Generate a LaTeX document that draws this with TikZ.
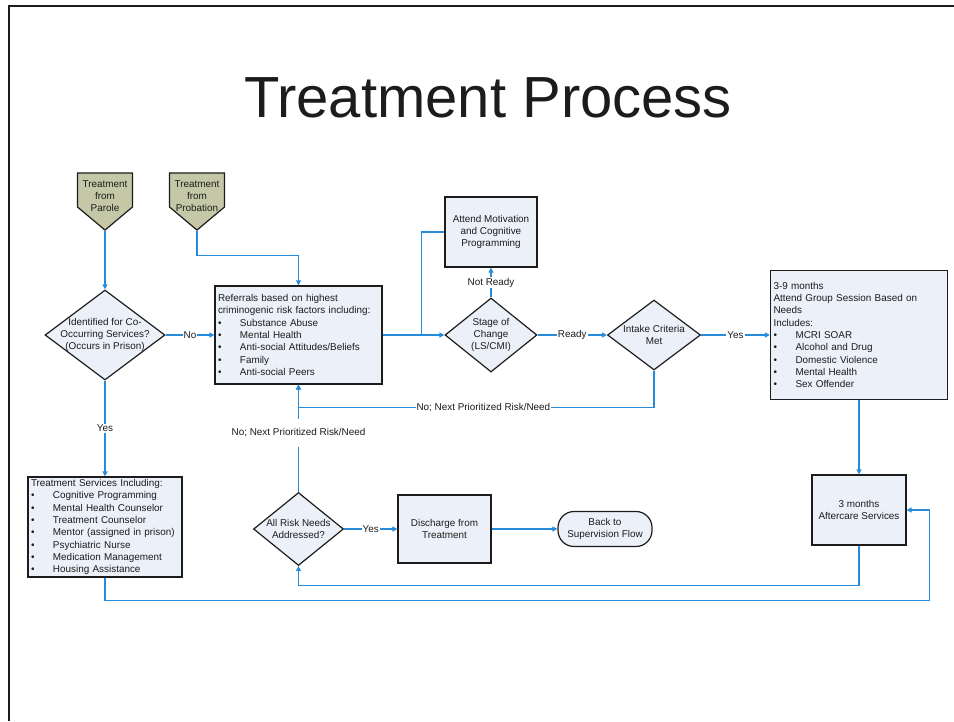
\documentclass[tikz,border=0pt]{standalone}
\usepackage{fontspec}
\setmainfont{Liberation Sans}
\usepackage{tikz}
\usetikzlibrary{shapes.geometric,shapes.symbols,arrows.meta}
\definecolor{flow}{RGB}{38,140,218}
\definecolor{boxfill}{RGB}{236,240,248}
\definecolor{tabfill}{RGB}{196,200,166}
\definecolor{ink}{RGB}{28,28,28}
\newcommand{\itm}[1]{\makebox[22pt][l]{\textbullet}#1}
\newcommand{\flowfont}{\fontsize{9.9}{12.3}\selectfont}
\tikzstyle{block} = [draw=ink, fill=boxfill, rectangle, line width=1.2pt,
    text=ink, font=\flowfont]
\tikzstyle{listbox} = [block, align=left, inner xsep=3pt, inner ysep=0pt]
\tikzstyle{stepbox} = [block, align=center]
\tikzstyle{decision} = [draw=ink, fill=boxfill, diamond, line width=1.2pt,
    inner sep=0pt]
\tikzstyle{dtext} = [align=center, text=ink, font=\flowfont, inner sep=0pt]
\tikzstyle{offpage} = [draw=ink, fill=tabfill, signal, signal to=south,
    signal pointer angle=100, line width=1.2pt, minimum width=55pt,
    minimum height=34pt, inner sep=0pt]
\tikzstyle{terminal} = [block, rounded corners=16pt, align=center]
\tikzstyle{line} = [draw=flow, line width=1.2pt]
\tikzstyle{lbl} = [fill=white, inner sep=1pt, text=ink, font=\flowfont]

\begin{document}
\begin{tikzpicture}[x=1pt, y=-1pt, >={Triangle[length=5pt,width=5pt]}]
    \useasboundingbox (0,0) rectangle (954,721);
    % slide frame and title
    \draw [ink, line width=2pt] (9,721) -- (9,6) -- (954,6);
    \node [anchor=base, text=ink, font=\fontsize{58}{60}\selectfont]
        (title) at (488,117) {Treatment Process};

    % % % % % % % % % % % % % % % % % % % % % % %
    % Main row
    % % % % % % % % % % % % % % % % % % % % % % %
    % co-occurring check
    \node [decision, minimum width=120pt, minimum height=90pt,
        label={[dtext]center:{Identified for Co-\\Occurring Services?\\(Occurs in Prison)}}]
        (coocc) at (105,335) {};

    % entry points
    \node [offpage, above of=coocc, node distance=145pt,
        label={[dtext, yshift=-6pt]center:{Treatment\\from\\Parole}}] (parole) {};
    \node [offpage, right of=parole, node distance=92pt,
        label={[dtext, yshift=-6pt]center:{Treatment\\from\\Probation}}] (probation) {};

    % referrals
    \node [listbox, right of=coocc, node distance=193.5pt, text width=161pt,
        minimum height=98pt] (referrals)
        {Referrals based on highest\\criminogenic risk factors including:\\
        \itm{Substance Abuse}\\\itm{Mental Health}\\
        \itm{Anti-social Attitudes/Beliefs}\\\itm{Family}\\
        \itm{Anti-social Peers}};

    % stage of change
    \node [decision, right of=referrals, node distance=192.5pt,
        minimum width=92pt, minimum height=74pt,
        label={[dtext]center:{Stage of\\Change\\(LS/CMI)}}] (stage) {};
    \node [stepbox, above of=stage, node distance=103pt,
        minimum width=92pt, minimum height=70pt] (attend)
        {Attend Motivation\\and Cognitive\\Programming};

    % intake
    \node [decision, right of=stage, node distance=163pt,
        minimum width=93pt, minimum height=70pt,
        label={[dtext]center:{Intake Criteria\\Met}}] (intake) {};

    % group sessions
    \node [listbox, right of=intake, node distance=205pt, text width=171pt,
        minimum height=129pt] (groups)
        {3-9 months\\Attend Group Session Based on\\Needs\\Includes:\\
        \itm{MCRI SOAR}\\\itm{Alcohol and Drug}\\\itm{Domestic Violence}\\
        \itm{Mental Health}\\\itm{Sex Offender}};

    % % % % % % % % % % % % % % % % % % % % % % %
    % Lower row
    % % % % % % % % % % % % % % % % % % % % % % %
    \node [listbox, below of=coocc, node distance=192pt, text width=148pt,
        minimum height=100pt] (services)
        {Treatment Services Including:\\\itm{Cognitive Programming}\\
        \itm{Mental Health Counselor}\\\itm{Treatment Counselor}\\
        \itm{Mentor (assigned in prison)}\\\itm{Psychiatric Nurse}\\
        \itm{Medication Management}\\\itm{Housing Assistance}};

    \node [decision, below of=referrals, node distance=194pt,
        minimum width=90pt, minimum height=73pt,
        label={[dtext]center:{All Risk Needs\\Addressed?}}] (allrisk) {};
    \node [stepbox, right of=allrisk, node distance=146pt,
        minimum width=93pt, minimum height=68pt] (discharge)
        {Discharge from\\Treatment};
    \node [terminal, right of=discharge, node distance=160.5pt,
        minimum width=94pt, minimum height=35pt] (backsup)
        {Back to\\Supervision Flow};

    \node [stepbox, below of=groups, node distance=175pt,
        minimum width=94pt, minimum height=70pt] (aftercare)
        {3 months\\Aftercare Services};

    % connectors
    \draw [line,->] (parole.south) -- (coocc.north);
    \draw [line,->] (probation.south) -- ++(0,-25pt) -| (referrals.north);
    \draw [line,->] (coocc.east) -- node [lbl] {No} (referrals.west);
    \draw [line,->] (referrals.east) -- coordinate [pos=0.635] (split) (stage.west);
    \draw [line] (attend.west) -| (split);
    \draw [line,->] (stage.north) -- node [lbl] {Not Ready} (attend.south);
    \draw [line,->] (stage.east) -- node [lbl] {Ready} (intake.west);
    \draw [line,->] (intake.east) -- node [lbl] {Yes} (groups.west);
    \draw [line,->] (intake.south) -- ++(0,-37pt) -|
        node [lbl, pos=0.24] {No; Next Prioritized Risk/Need} (referrals.south);
    \draw [line,->] (coocc.south) -- node [lbl] {Yes} (services.north);
    \draw [line,->] (services.south) -- ++(0,-23pt) -|
        ([xshift=23pt]aftercare.east) -- (aftercare.east);
    \draw [line,->] (groups.south) -- (aftercare.north);
    \draw [line,->] (aftercare.south) -- ++(0,-40pt) -| (allrisk.south);
    \draw [line,->] (allrisk.north) -- node [lbl, pos=0.55, inner ysep=10pt]
        {No; Next Prioritized Risk/Need} (referrals.south);
    \draw [line,->] (allrisk.east) -- node [lbl] {Yes} (discharge.west);
    \draw [line,->] (discharge.east) -- (backsup.west);
\end{tikzpicture}
\end{document}
